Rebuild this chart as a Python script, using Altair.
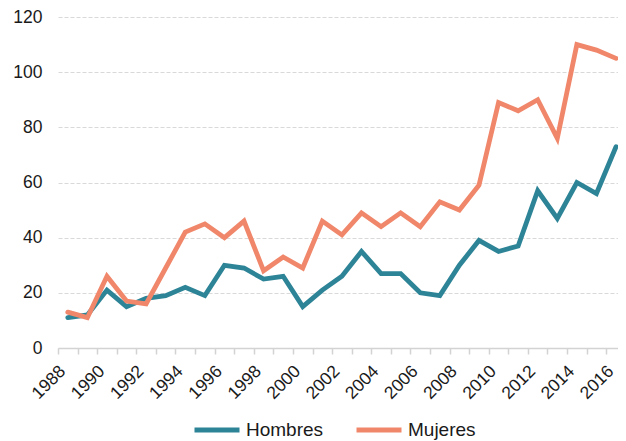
import altair as alt
import pandas as pd

years = list(range(1988, 2017))
hombres = [11, 12, 21, 15, 18, 19, 22, 19, 30, 29, 25, 26, 15, 21, 26, 35, 27, 27,
           20, 19, 30, 39, 35, 37, 57, 47, 60, 56, 73]
mujeres = [13, 11, 26, 17, 16, 29, 42, 45, 40, 46, 28, 33, 29, 46, 41, 49, 44, 49,
           44, 53, 50, 59, 89, 86, 90, 76, 110, 108, 105]
series = ["Hombres", "Mujeres"]
colors = ["#2E8497", "#F0876A"]
y_ticks = [0, 20, 40, 60, 80, 100, 120]

df = pd.DataFrame({
    "year": years + years,
    "value": hombres + mujeres,
    "serie": [series[0]] * len(years) + [series[1]] * len(years),
})

W = 560
H = 331
step = 19.58
x_min = years[0] - 0.5
x_max = x_min + W / step
tick_vals = [y - 0.5 for y in years]

chart = alt.Chart(df).mark_line(strokeWidth=4.8, strokeCap="round").encode(
    x=alt.X(
        "year:Q",
        scale=alt.Scale(domain=[x_min, x_max], nice=False, zero=False),
        axis=alt.Axis(
            values=tick_vals,
            labelExpr="(datum.value + 0.5) % 2 == 0 ? format(datum.value + 0.5, 'd') : ''",
            labelOffset=-2,
            labelAngle=-45,
            grid=False,
            ticks=True,
            tickSize=6,
            tickColor="#d3d3d3",
            tickWidth=1.5,
            domainColor="#d3d3d3",
            domainWidth=1.5,
            labelFontSize=17.5,
            labelColor="#1a1a1a",
            labelPadding=8,
            labelFlush=False,
            labelOverlap=False,
            title=None,
        ),
    ),
    y=alt.Y(
        "value:Q",
        scale=alt.Scale(domain=[0, 120], nice=False),
        axis=alt.Axis(
            values=y_ticks,
            grid=True,
            gridDash=[4, 2],
            gridColor="#d9d9d9",
            gridWidth=1.2,
            domain=False,
            ticks=False,
            labelFontSize=17.5,
            labelColor="#1a1a1a",
            labelPadding=16,
            title=None,
        ),
    ),
    color=alt.Color(
        "serie:N",
        scale=alt.Scale(domain=series, range=colors),
        legend=alt.Legend(
            orient="none",
            legendX=134,
            legendY=388,
            direction="horizontal",
            title=None,
            symbolType="stroke",
            symbolSize=2025,
            symbolStrokeWidth=4.8,
            labelFontSize=19,
            labelColor="#1a1a1a",
            labelOffset=4,
            columnPadding=22,
        ),
    ),
).properties(
    width=W,
    height=H,
    autosize=alt.AutoSizeParams(type="none"),
    padding={"left": 50, "top": 9, "right": 0, "bottom": 95},
).configure(
    font="Liberation Sans",
).configure_view(
    stroke=None,
)

chart.save("out.html", embed_options={"renderer": "svg", "actions": False})
